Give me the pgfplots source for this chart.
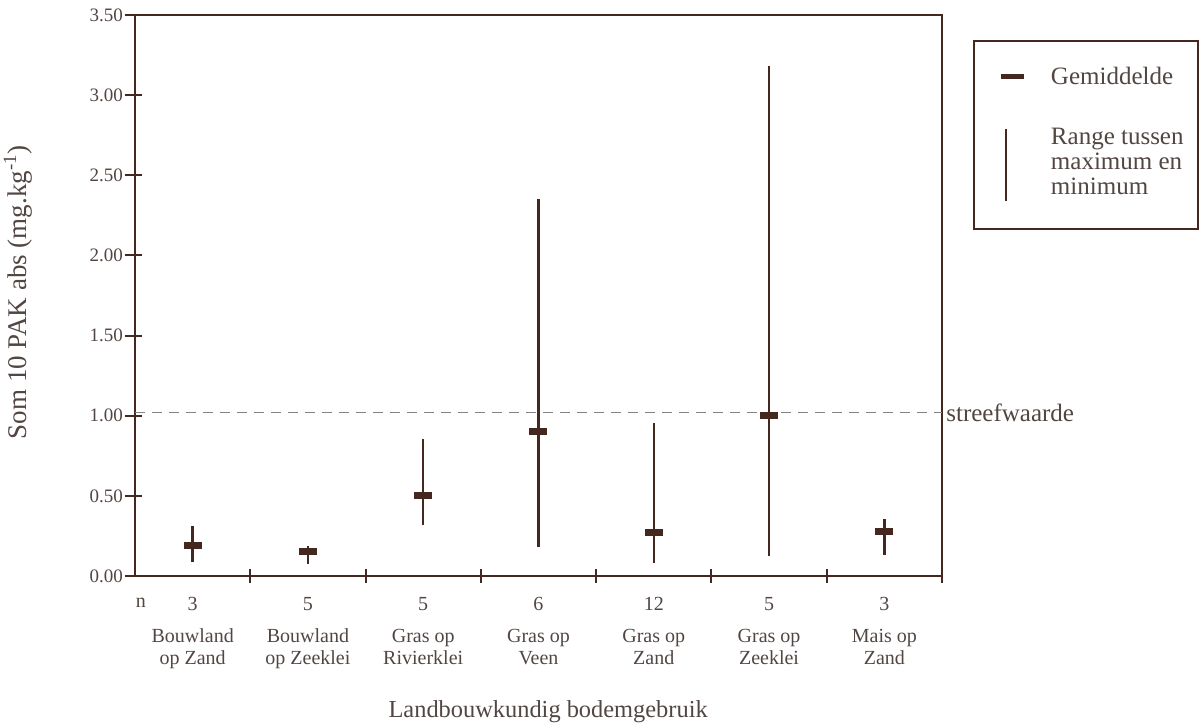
\documentclass[border=0pt]{standalone}
\usepackage{pgfplots}
\pgfplotsset{compat=1.18}
\usepackage{pgfplotstable}
\usepackage{fontspec}
\setmainfont{Liberation Serif}

\definecolor{brn}{RGB}{68,40,32}
\definecolor{txt}{RGB}{82,70,66}
\definecolor{dashgray}{RGB}{135,128,126}

% Sum of 10 PAH per land-use class: mean, minimum, maximum, number of samples
\pgfplotstableread{
cat mean  min   max   n
0   0.19  0.087 0.31  3
1   0.15  0.075 0.19  5
2   0.50  0.32  0.855 5
3   0.90  0.18  2.35  6
4   0.27  0.083 0.955 12
5   1.00  0.127 3.18  5
6   0.28  0.13  0.355 3
}\pakdata

\begin{document}
\begin{tikzpicture}
\useasboundingbox (-67.5pt,-76pt) rectangle (533pt,288pt);
\begin{axis}[
  at={(0,0)}, anchor=south west,
  scale only axis, width=403.5pt, height=280.5pt,
  xmin=-0.5, xmax=6.5, ymin=0, ymax=3.5,
  clip mode=individual,
  axis line style={draw=brn, line width=1pt},
  xtick pos=bottom, ytick pos=left,
  tick align=center,
  major tick length=7pt,
  every tick/.style={draw=brn, line width=1pt},
  % category boundaries carry the ticks
  xtick={0.5,1.5,2.5,3.5,4.5,5.5,6.5},
  xticklabels={},
  % category names (with sample counts) sit at the centres
  extra x ticks={0,1,2,3,4,5,6},
  extra x tick labels={
    {3\\[5pt]Bouwland\\op Zand},
    {5\\[5pt]Bouwland\\op Zeeklei},
    {5\\[5pt]Gras op\\Rivierklei},
    {6\\[5pt]Gras op\\Veen},
    {12\\[5pt]Gras op\\Zand},
    {5\\[5pt]Gras op\\Zeeklei},
    {3\\[5pt]Mais op\\Zand}},
  extra x tick style={major tick length=0pt,
    xticklabel style={align=center, font=\fontsize{10}{11}\selectfont, text=txt, yshift=-7pt}},
  ytick={0,0.5,1,1.5,2,2.5,3,3.5},
  yticklabels={0.00,0.50,1.00,1.50,2.00,2.50,3.00,3.50},
  yticklabel style={font=\fontsize{9.5}{10}\selectfont, text=txt, xshift=1pt},
  ylabel={Som 10 PAK abs (mg.kg\textsuperscript{-1})},
  every axis y label/.style={at={(rel axis cs:-0.145,0.506)}, rotate=90, anchor=center,
    font=\fontsize{13.5}{14}\selectfont, text=txt},
  xlabel={Landbouwkundig bodemgebruik},
  every axis x label/.style={at={(rel axis cs:0.512,-0.2424)}, anchor=center,
    font=\fontsize{12.2}{13}\selectfont, text=txt},
  legend cell align=left,
  legend style={at={(rel axis cs:1.0384,0.9554)}, anchor=north west,
    draw=brn, line width=1pt, inner xsep=0pt, inner ysep=0pt, row sep=0pt,
    nodes={inner sep=0pt, text depth=, text=txt},
    font=\fontsize{12.5}{12.5}\selectfont},
]

% tick marks across the y axis
\pgfplotsinvokeforeach{0,0.5,1,1.5,2,2.5,3,3.5}{
  \draw[brn, line width=1pt] (axis cs:-0.5,#1) ++(-5pt,0pt) -- ++(7.5pt,0pt);
}

% target value (streefwaarde)
\addplot[forget plot, dashgray, line width=0.7pt, dash pattern=on 5pt off 3.5pt]
  coordinates {(-0.5,1.02) (6.5,1.02)};
\node[anchor=west, inner sep=2pt, text=txt, font=\fontsize{12.5}{13}\selectfont]
  at (axis cs:6.5,1.02) {streefwaarde};

% means
\addplot[only marks, mark=-, mark size=4.5pt, mark options={draw=brn, line width=3.5pt},
  legend image code/.code={
    \path[draw=none, fill=none] (0pt,-22.5pt) rectangle (38.5pt,17.5pt);
    \draw[brn, line width=2.5pt] (13.5pt,0pt) -- (25pt,0pt);}]
  table[x=cat, y=mean] {\pakdata};
\addlegendentry{\parbox{73.5pt}{Gemiddelde}}

% ranges between minimum and maximum
\addplot[draw=none, mark=none,
  legend image code/.code={
    \path[draw=none, fill=none] (0pt,-34pt) rectangle (38.5pt,20pt);
    \draw[brn, line width=1.2pt] (16pt,-20pt) -- (16pt,16pt);},
  error bars/.cd, y dir=both, y explicit, error mark=none,
  error bar style={draw=brn, line width=1.2pt}]
  table[x=cat, y=mean,
    y error plus expr=\thisrow{max}-\thisrow{mean},
    y error minus expr=\thisrow{mean}-\thisrow{min}] {\pakdata};
\addlegendentry{\parbox{73.5pt}{\raggedright Range tussen\\maximum en\\minimum}}

\node[text=txt, font=\fontsize{10}{11}\selectfont] at (rel axis cs:0,0) [xshift=3pt, yshift=-13.5pt] {n};
\end{axis}
\end{tikzpicture}
\end{document}
